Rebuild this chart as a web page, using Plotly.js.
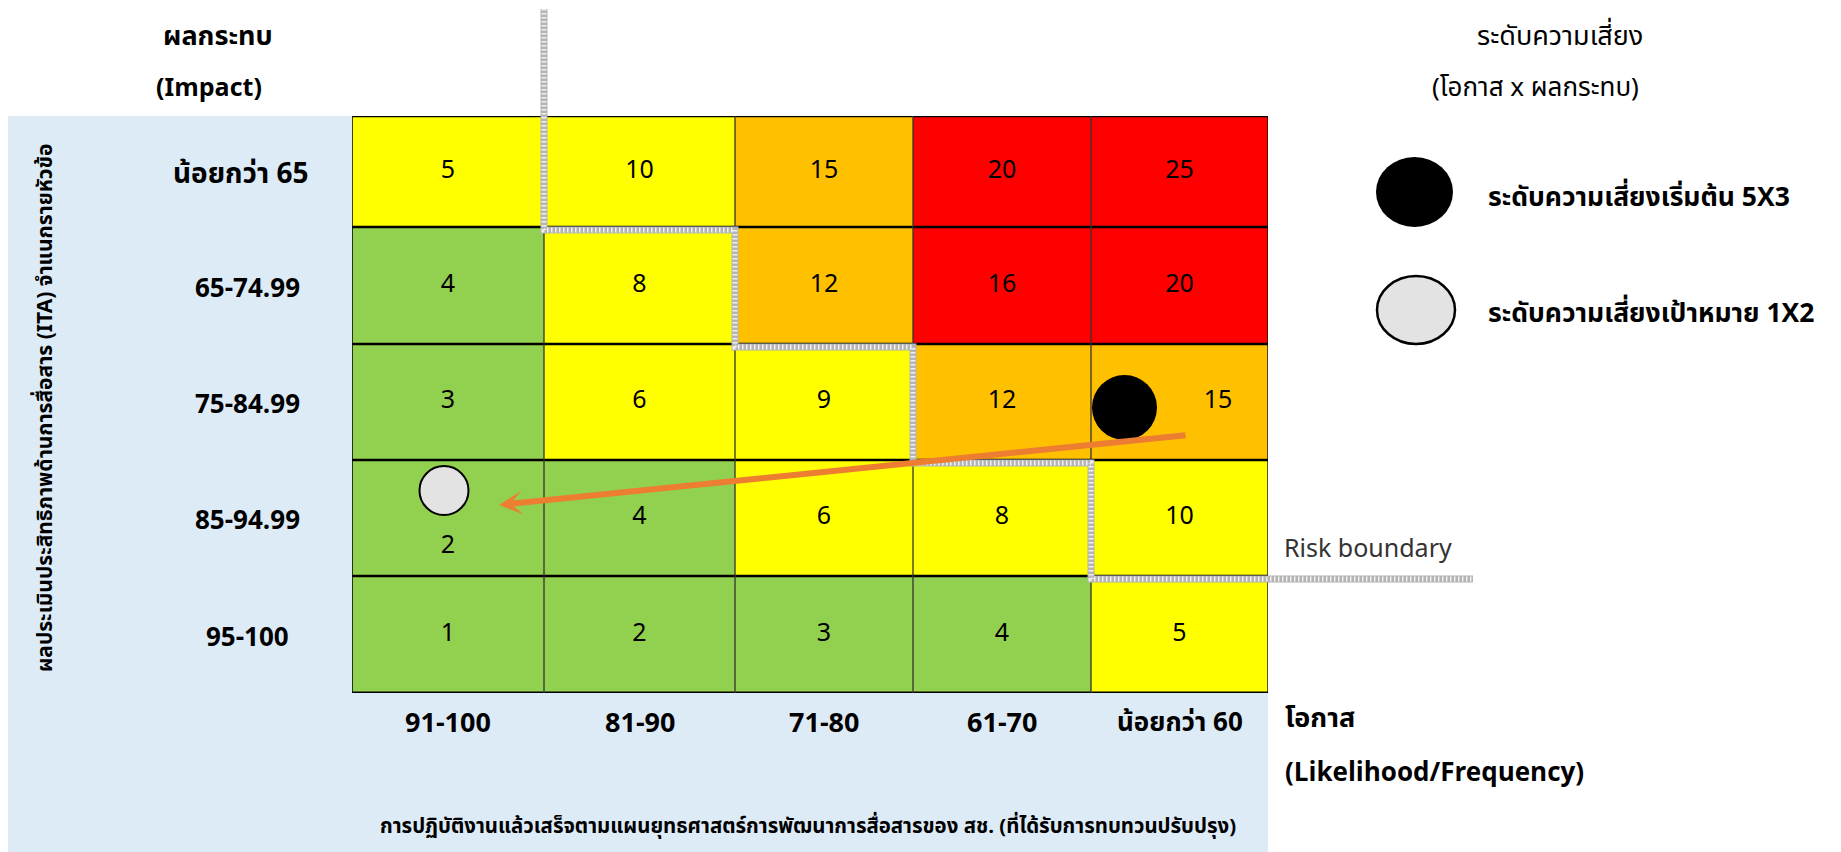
<!DOCTYPE html>
<html>
<head>
<meta charset="utf-8">
<script src="https://cdn.plot.ly/plotly-3.0.1.min.js"></script>
<style>
  html, body { margin: 0; padding: 0; background: #ffffff; }
  #chart { width: 1841px; height: 852px; }
</style>
</head>
<body>
<div id="chart"></div>
<script>
// ---------------- DATA ----------------
const likelihoodLabels = ['91-100', '81-90', '71-80', '61-70', 'น้อยกว่า 60'];
const likelihoodScores = [1, 2, 3, 4, 5];
const impactLabels = ['น้อยกว่า 65', '65-74.99', '75-84.99', '85-94.99', '95-100'];
const impactScores = [5, 4, 3, 2, 1];
const riskScores = [
  [5, 10, 15, 20, 25],
  [4, 8, 12, 16, 20],
  [3, 6, 9, 12, 15],
  [2, 4, 6, 8, 10],
  [1, 2, 3, 4, 5]
];
const riskBandUpper = [4, 10, 15, 25];
const pointNames = ['ระดับความเสี่ยงเริ่มต้น 5X3', 'ระดับความเสี่ยงเป้าหมาย 1X2'];
const pointLikelihood = [5, 1];
const pointImpact = [3, 2];

// ---------------- LAYOUT / STYLE ----------------
const W = 1841, H = 852;
const G = { left: 352, top: 116, width: 916, height: 577 };
const colEdges = [0, 192, 383, 561, 739, 916];
const rowEdges = [0, 111, 228, 344, 460, 577];
const bandColors = ['#92D050', '#FFFF00', '#FFC000', '#FF0000'];
const FONT = "Tahoma, 'Leelawadee UI', 'Noto Sans Thai', 'Noto Sans', 'DejaVu Sans', sans-serif";
const PANEL = '#DDEBF7';

const px = x => (x - G.left) / G.width;
const py = y => (G.top + G.height - y) / G.height;
const colC = i => (colEdges[i] + colEdges[i + 1]) / 2;
const rowC = i => (rowEdges[i] + rowEdges[i + 1]) / 2;

const levels = riskScores.map(r => r.map(s => riskBandUpper.findIndex(u => s <= u)));
const cs = [];
bandColors.forEach((c, i) => { cs.push([i / 4, c]); cs.push([(i + 1) / 4, c]); });

// marker placement inside the cells (visual offsets)
const markerOffset = [[-55, 5.5], [-4, -27.5]];
const textOffset = [[38.5, 0], [0, 29]];
const pX = [], pY = [];
pointLikelihood.forEach((L, k) => {
  const ci = likelihoodScores.indexOf(L), ri = impactScores.indexOf(pointImpact[k]);
  pX.push(colC(ci) + markerOffset[k][0]);
  pY.push(rowC(ri) + markerOffset[k][1]);
});

// cell text positions
const tX = [], tY = [], tT = [];
riskScores.forEach((row, ri) => row.forEach((s, ci) => {
  let dx = 0, dy = 0;
  pointLikelihood.forEach((L, k) => {
    if (likelihoodScores.indexOf(L) === ci && impactScores.indexOf(pointImpact[k]) === ri) {
      dx = textOffset[k][0]; dy = textOffset[k][1];
    }
  });
  tX.push(colC(ci) + dx); tY.push(rowC(ri) + dy); tT.push(String(s));
}));

const traces = [
  {
    type: 'heatmap', x: colEdges, y: rowEdges, z: levels,
    zmin: -0.5, zmax: 3.5, colorscale: cs, showscale: false, hoverinfo: 'skip'
  },
  {
    type: 'scatter', mode: 'text', x: tX, y: tY, text: tT,
    textfont: { family: FONT, size: 25, color: '#000' }, hoverinfo: 'skip', showlegend: false
  },
  {
    type: 'scatter', mode: 'markers', x: [pX[0]], y: [pY[0]], name: pointNames[0],
    marker: { symbol: 'circle', size: 65, color: '#000000', line: { width: 0 } },
    hoverinfo: 'skip', showlegend: false
  },
  {
    type: 'scatter', mode: 'markers', x: [pX[1]], y: [pY[1]], name: pointNames[1],
    marker: { symbol: 'circle', size: 49, color: '#E3E3E3', line: { width: 2, color: '#000' } },
    hoverinfo: 'skip', showlegend: false
  }
];

// ---------------- SHAPES ----------------
const shapes = [];
// light blue panel
shapes.push({ type: 'rect', xref: 'paper', yref: 'paper', x0: px(8), x1: px(1268), y0: py(116), y1: py(852),
  fillcolor: PANEL, line: { width: 0 }, layer: 'below' });
// grid lines
rowEdges.forEach((y, i) => {
  shapes.push({ type: 'line', xref: 'x', yref: 'y', x0: 0, x1: G.width, y0: y, y1: y,
    line: { color: '#000', width: i === rowEdges.length - 1 ? 3 : 2.5 }, layer: 'above' });
});
colEdges.forEach((x, i) => {
  shapes.push({ type: 'line', xref: 'x', yref: 'y', x0: x, x1: x, y0: 0, y1: G.height,
    line: { color: (i === 0 || i === colEdges.length - 1) ? '#000' : '#333333', width: (i === 0) ? 1.5 : 1.3 }, layer: 'above' });
});
// risk boundary (staircase, drawn in pixel -> paper)
const stairPts = [
  [G.left + colEdges[1], 9],
  [G.left + colEdges[1], G.top + rowEdges[1] + 3],
  [G.left + colEdges[2], G.top + rowEdges[1] + 3],
  [G.left + colEdges[2], G.top + rowEdges[2] + 3],
  [G.left + colEdges[3], G.top + rowEdges[2] + 3],
  [G.left + colEdges[3], G.top + rowEdges[3] + 3],
  [G.left + colEdges[4], G.top + rowEdges[3] + 3],
  [G.left + colEdges[4], G.top + rowEdges[4] + 3],
  [1473, G.top + rowEdges[4] + 3]
];
const stairPath = stairPts.map((p, i) => (i ? 'L' : 'M') + px(p[0]).toFixed(5) + ',' + py(p[1]).toFixed(5)).join(' ');
shapes.push({ type: 'path', xref: 'paper', yref: 'paper', path: stairPath, line: { color: '#b4b4b4', width: 7 }, layer: 'above' });
shapes.push({ type: 'path', xref: 'paper', yref: 'paper', path: stairPath, line: { color: 'rgba(255,255,255,0.8)', width: 5, dash: '1.5px,2.5px' }, layer: 'above' });
// legend symbols
shapes.push({ type: 'circle', xref: 'paper', yref: 'paper', x0: px(1376), x1: px(1453), y0: py(157), y1: py(227),
  fillcolor: '#000', line: { width: 0 } });
shapes.push({ type: 'circle', xref: 'paper', yref: 'paper', x0: px(1377), x1: px(1455), y0: py(276), y1: py(344),
  fillcolor: '#E3E3E3', line: { width: 2.5, color: '#000' } });

// ---------------- ANNOTATIONS ----------------
const ann = [];
const txt = (text, x, y, opts) => Object.assign({
  text, xref: 'paper', yref: 'paper', x: px(x), y: py(y), showarrow: false,
  xanchor: 'center', yanchor: 'middle', font: { family: FONT, size: 26, color: '#000' }
}, opts || {});
const f = (size, color) => ({ family: FONT, size, color: color || '#000' });

ann.push(txt('<b>ผลกระทบ</b>', 218, 36, { font: f(27) }));
ann.push(txt('<b>(Impact)</b>', 209, 88, { font: f(25) }));
impactLabels.forEach((lab, i) => ann.push(txt('<b>' + lab + '</b>', i === 0 ? 240 : 247, G.top + rowC(i) + 3, { font: f(i === 0 ? 28 : 26) })));
likelihoodLabels.forEach((lab, i) => ann.push(txt('<b>' + lab + '</b>', G.left + colC(i), 723, { font: f(i === 4 ? 26 : 27) })));
ann.push(txt('<b>โอกาส</b>', 1283, 718, { xanchor: 'left', font: f(27) }));
ann.push(txt('<b>(Likelihood/Frequency)</b>', 1283, 773, { xanchor: 'left', font: f(26) }));
ann.push(txt('ระดับความเสี่ยง', 1560, 36, { font: f(27) }));
ann.push(txt('(โอกาส x ผลกระทบ)', 1535, 88, { font: f(26) }));
ann.push(txt('<b>' + pointNames[0] + '</b>', 1486, 198, { xanchor: 'left', font: f(26.5) }));
ann.push(txt('<b>' + pointNames[1] + '</b>', 1486, 314, { xanchor: 'left', font: f(26.5) }));
ann.push(txt('Risk boundary', 1282, 549, { xanchor: 'left', font: f(25, '#333') }));
ann.push(txt('<b>ผลประเมินประสิทธิภาพด้านการสื่อสาร (ITA) จำแนกรายหัวข้อ</b>', 46, 408,
  { textangle: -90, font: f(21) }));
ann.push(txt('<b>การปฏิบัติงานแล้วเสร็จตามแผนยุทธศาสตร์การพัฒนาการสื่อสารของ สช. (ที่ได้รับการทบทวนปรับปรุง)</b>', 808, 826,
  { font: f(20.4) }));

// arrow from start risk to target risk
ann.push({
  xref: 'x', yref: 'y', axref: 'x', ayref: 'y',
  x: pX[1] + 55, y: pY[1] + 14.5, ax: pX[0] + 62.5, ay: pY[0] + 27.5,
  text: '', showarrow: true, arrowhead: 3, arrowsize: 0.65, arrowwidth: 6, arrowcolor: '#ED7D31', standoff: 0
});

const layout = {
  width: W, height: H,
  margin: { l: G.left, r: W - G.left - G.width, t: G.top, b: H - G.top - G.height, pad: 0 },
  paper_bgcolor: '#ffffff', plot_bgcolor: 'rgba(0,0,0,0)',
  xaxis: { range: [0, G.width], visible: false, fixedrange: true },
  yaxis: { range: [G.height, 0], visible: false, fixedrange: true },
  shapes, annotations: ann, showlegend: false
};

Plotly.newPlot('chart', traces, layout, { displayModeBar: false, staticPlot: true });
</script>
</body>
</html>
